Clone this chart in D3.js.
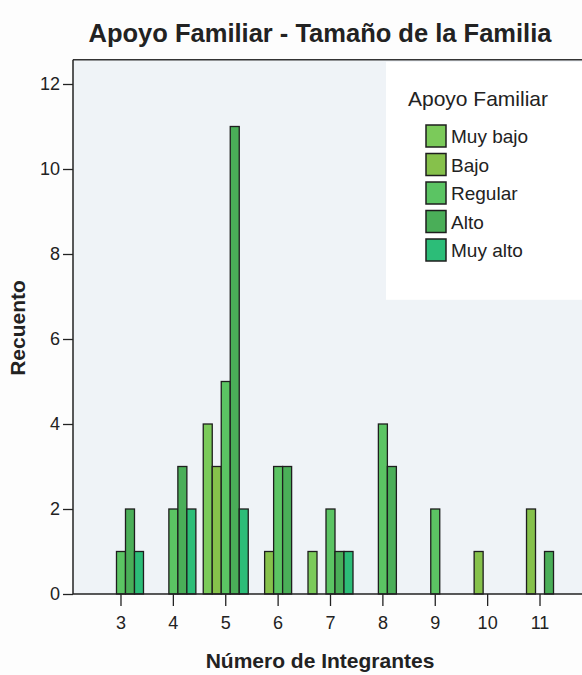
<!DOCTYPE html>
<html><head><meta charset="utf-8">
<script src="https://cdn.jsdelivr.net/npm/d3@7/dist/d3.min.js"></script>
<style>body{margin:0;background:#fdfdfd}svg{display:block;font-family:"Liberation Sans",Arial,sans-serif}</style>
</head><body>
<script>
const categories = [3,4,5,6,7,8,9,10,11];
const seriesNames = ["Muy bajo","Bajo","Regular","Alto","Muy alto"];
const muyBajo = [0,0,4,0,1,0,0,0,0];
const bajo    = [0,0,3,1,0,0,0,1,2];
const regular = [1,2,5,3,2,4,2,0,0];
const alto    = [2,3,11,3,1,3,0,0,1];
const muyAlto = [1,2,2,0,1,0,0,0,0];
const yTicks = [0,2,4,6,8,10,12];
const colors = ["#7bca5a","#86c14b","#5bc463","#4aae58","#2cbd78"];

const series = [muyBajo,bajo,regular,alto,muyAlto];
const W=582,H=675;
const svg=d3.select("body").append("svg").attr("width",W).attr("height",H);
const FF="Liberation Sans, Arial, sans-serif";

const x0=d3.scaleBand().domain(categories).range([94.8,566.2]).paddingInner(0).paddingOuter(0);
const groupW=45;
const x1=d3.scaleBand().domain(seriesNames).range([x0.bandwidth()/2-groupW/2, x0.bandwidth()/2+groupW/2]);
const y=d3.scaleLinear().domain([0,12]).range([594,84]);

const axisX=73, plotRight=582, plotTop=y(12.57);
svg.append("rect").attr("x",axisX).attr("y",plotTop).attr("width",plotRight-axisX).attr("height",y(0)-plotTop).attr("fill","#eff3f7");
svg.append("rect").attr("x",386).attr("y",plotTop+2).attr("width",plotRight-386).attr("height",238).attr("fill","#ffffff");

const data=[];
categories.forEach((c,i)=>seriesNames.forEach((s,j)=>{ if(series[j][i]>0) data.push({c,s,j,v:series[j][i]}); }));
svg.append("g").selectAll("rect").data(data).join("rect")
  .attr("x",d=>x0(d.c)+x1(d.s)).attr("width",x1.bandwidth())
  .attr("y",d=>y(d.v)).attr("height",d=>y(0)-y(d.v))
  .attr("fill",d=>colors[d.j]).attr("stroke","#1e1e1e").attr("stroke-width",1.3);

svg.append("line").attr("x1",axisX).attr("x2",plotRight).attr("y1",plotTop).attr("y2",plotTop).attr("stroke","#333").attr("stroke-width",1.5);

const gy=svg.append("g").attr("transform",`translate(${axisX},0)`)
  .call(d3.axisLeft(y).tickValues(yTicks).tickSize(10).tickPadding(3).tickSizeOuter(0));
gy.select(".domain").attr("stroke","#222").attr("stroke-width",1.5).attr("d",`M0,${plotTop}V${y(0)}`);
gy.selectAll(".tick line").attr("stroke","#222").attr("stroke-width",1.3);
gy.selectAll(".tick text").attr("font-size",18).attr("fill","#222").attr("font-family",FF);

const gx=svg.append("g").attr("transform",`translate(0,${y(0)})`)
  .call(d3.axisBottom(x0).tickSize(12).tickPadding(10).tickSizeOuter(0));
gx.select(".domain").attr("stroke","#222").attr("stroke-width",1.5).attr("d",`M${axisX},0H${plotRight}`);
gx.selectAll(".tick line").attr("stroke","#222").attr("stroke-width",1.3);
gx.selectAll(".tick text").attr("font-size",18).attr("fill","#222").attr("font-family",FF);

svg.append("text").attr("x",320).attr("y",42).attr("text-anchor","middle").attr("font-size",25.5).attr("font-weight","bold").attr("fill","#222").text("Apoyo Familiar - Tamaño de la Familia");
svg.append("text").attr("x",320).attr("y",668).attr("text-anchor","middle").attr("font-size",21).attr("font-weight","bold").attr("fill","#222").text("Número de Integrantes");
svg.append("text").attr("transform","translate(25,328) rotate(-90)").attr("text-anchor","middle").attr("font-size",21).attr("font-weight","bold").attr("fill","#222").text("Recuento");

const lg=svg.append("g");
lg.append("text").attr("x",478).attr("y",106).attr("text-anchor","middle").attr("font-size",21).attr("fill","#222").text("Apoyo Familiar");
const rows=lg.selectAll("g").data(seriesNames).join("g").attr("transform",(d,i)=>`translate(426,${125+i*28.5})`);
rows.append("rect").attr("width",20).attr("height",22).attr("fill",(d,i)=>colors[i]).attr("stroke","#1e1e1e").attr("stroke-width",1.5);
rows.append("text").attr("x",25).attr("y",18).attr("font-size",19).attr("fill","#222").text(d=>d);
</script>
</body></html>
